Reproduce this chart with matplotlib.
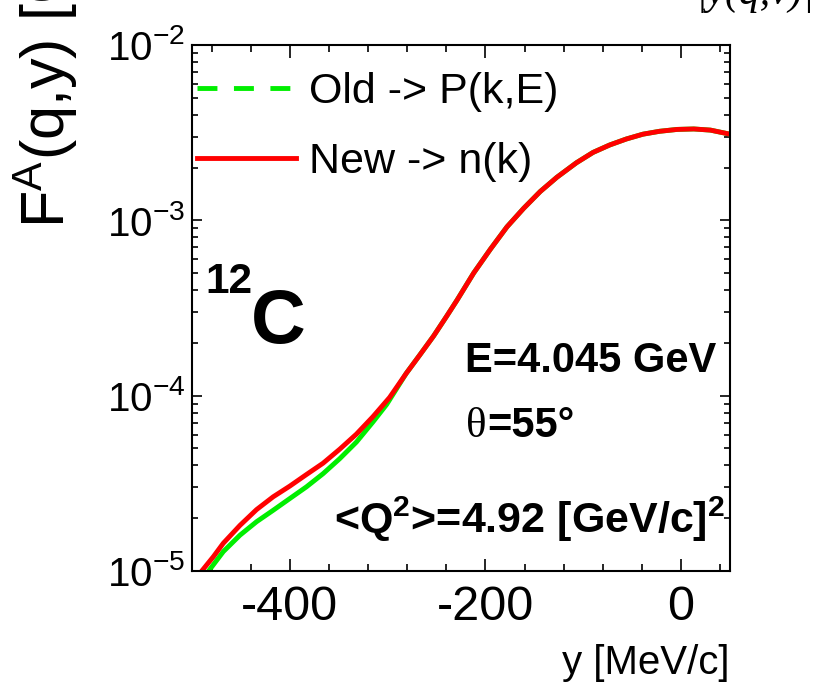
import matplotlib
matplotlib.use("Agg")
import matplotlib.pyplot as plt
from matplotlib.lines import Line2D
from matplotlib.ticker import MultipleLocator, LogLocator, NullFormatter

# y [MeV/c] and F^A(q,y)
y_new = [-490, -478, -468, -451, -434, -417, -400, -383, -366, -349, -332, -315,
         -298, -281, -267, -253, -240, -229, -212, -195, -178, -161, -144, -127,
         -107, -90, -73, -56, -39, -22, -4, 13, 30, 50]
f_new = [1.00e-5, 1.21e-5, 1.44e-5, 1.82e-5, 2.24e-5, 2.65e-5, 3.05e-5, 3.55e-5,
         4.12e-5, 4.95e-5, 6.03e-5, 7.59e-5, 9.77e-5, 1.34e-4, 1.71e-4, 2.19e-4,
         2.82e-4, 3.51e-4, 5.01e-4, 6.84e-4, 9.18e-4, 1.17e-3, 1.46e-3, 1.76e-3,
         2.13e-3, 2.44e-3, 2.69e-3, 2.91e-3, 3.10e-3, 3.22e-3, 3.30e-3, 3.32e-3,
         3.27e-3, 3.10e-3]

y_old = [-483, -468, -451, -434, -417, -400, -383, -366, -349, -332, -315, -301,
         -281, -267, -253, -240, -229, -212, -195, -178, -161, -144, -127,
         -107, -90, -73, -56, -39, -22, -4, 13, 30, 50]
f_old = [1.00e-5, 1.29e-5, 1.60e-5, 1.91e-5, 2.22e-5, 2.59e-5, 3.02e-5, 3.59e-5,
         4.37e-5, 5.43e-5, 7.08e-5, 8.91e-5, 1.34e-4, 1.71e-4, 2.19e-4,
         2.82e-4, 3.51e-4, 5.01e-4, 6.84e-4, 9.18e-4, 1.17e-3, 1.46e-3, 1.76e-3,
         2.13e-3, 2.44e-3, 2.69e-3, 2.91e-3, 3.10e-3, 3.22e-3, 3.30e-3, 3.32e-3,
         3.27e-3, 3.10e-3]

labels = ["Old -> P(k,E)", "New -> n(k)"]

plt.rcParams["font.family"] = ["Liberation Sans", "DejaVu Sans"]
plt.rcParams["mathtext.default"] = "regular"
plt.rcParams["axes.unicode_minus"] = False

green = "#00ee00"
red = "#ff0000"

fig = plt.figure(figsize=(8.16, 6.91), dpi=100)
ax = fig.add_axes([192 / 816, 120 / 691, 538 / 816, 526 / 691])

ax.plot(y_old, f_old, color=green, lw=3.5)
ax.plot(y_new, f_new, color=red, lw=3.5)

ax.set_yscale("log")
ax.set_xlim(-500, 50)
ax.set_ylim(1e-5, 1e-2)

ax.xaxis.set_major_locator(MultipleLocator(200))
ax.xaxis.set_minor_locator(MultipleLocator(40))
ax.yaxis.set_minor_locator(LogLocator(base=10, subs=range(2, 10)))
ax.yaxis.set_minor_formatter(NullFormatter())

for s in ax.spines.values():
    s.set_linewidth(1.5)

ax.tick_params(which="both", direction="in", top=True, right=True, width=1.2)
ax.tick_params(axis="x", which="major", length=9, labelsize=35, pad=10)
ax.tick_params(axis="x", which="minor", length=5)
ax.tick_params(axis="y", which="major", length=7, labelsize=29, pad=5)
ax.tick_params(axis="y", which="minor", length=4)

ax.set_xlabel("y [MeV/c]", fontsize=29, loc="right")
ax.xaxis.set_label_coords(1.0, -0.138)

# y label runs off the top of the picture
fig.text(65 / 816, (691 - 228) / 691, "F$^A$(q,y) [GeV$^{-1}$]",
         fontsize=44, rotation=90, rotation_mode="anchor", ha="left", va="baseline")
# bit of a formula from above, cut off by the top edge
fig.text(815 / 816, 0.994, "|y(q,ν)|", family="Liberation Serif", style="italic",
         fontsize=30, ha="right", va="baseline")

handles = [Line2D([], [], color=green, lw=3.5, dashes=(4.1, 3.4)),
           Line2D([], [], color=red, lw=3.5)]
ax.legend(handles, labels, loc="upper left", bbox_to_anchor=(0.009, 0.948),
          frameon=False, fontsize=31, handlelength=2.3, handletextpad=0.3,
          labelspacing=0.68, borderpad=0, borderaxespad=0)

ax.text(0.024, 0.529, "12", transform=ax.transAxes, fontsize=30.5,
        fontweight="bold", ha="left", va="baseline")
ax.text(0.110, 0.433, "C", transform=ax.transAxes, fontsize=54.5,
        fontweight="bold", ha="left", va="baseline")

ax.text(0.507, 0.378, "E=4.045 GeV", transform=ax.transAxes, fontsize=30,
        fontweight="bold", ha="left", va="baseline")
th = ax.text(0.509, 0.255, "θ", transform=ax.transAxes, family="Liberation Serif",
             fontsize=31, ha="left", va="baseline")
ax.annotate("=55°", xy=(1.0, 0.0), xycoords=th, xytext=(0.5, 0),
            textcoords="offset points", fontsize=30,
            fontweight="bold", ha="left", va="bottom")
ax.text(0.991, 0.072, "<Q$^2$>=4.92 [GeV/c]$^2$", transform=ax.transAxes,
        fontsize=31, fontweight="bold", ha="right", va="baseline")

fig.savefig("out.png", dpi=100)
